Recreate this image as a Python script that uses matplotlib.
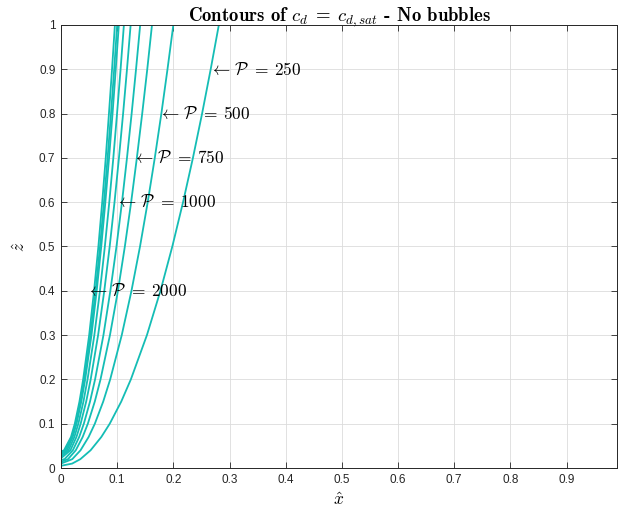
import numpy as np
import matplotlib
matplotlib.use("Agg")
import matplotlib.pyplot as plt

plt.rcParams['mathtext.fontset'] = 'cm'
plt.rcParams['font.family'] = ['Liberation Sans', 'DejaVu Sans']

# contour levels of P, from left-most curve to right-most curve
P_levels = [2250, 2000, 1750, 1500, 1250, 1000, 750, 500, 250]

# height where each contour leaves the x = 0 axis
z_start = [0.037, 0.034, 0.030, 0.026, 0.022, 0.018, 0.014, 0.010, 0.005]

# common z heights, and x of every contour at those heights (nan = below start)
z_grid = [0.01, 0.02, 0.04, 0.07, 0.1, 0.15, 0.2, 0.3, 0.4, 0.5, 0.6, 0.7, 0.8, 0.9, 1.0]
nan = np.nan
x_2250 = [nan, nan, 0.0054, 0.0178, 0.0246, 0.0329, 0.0395, 0.0502, 0.0589, 0.0666, 0.0734, 0.0797, 0.0854, 0.0909, 0.096]
x_2000 = [nan, nan, 0.0079, 0.0193, 0.0261, 0.0347, 0.0415, 0.0525, 0.0616, 0.0695, 0.0765, 0.0830, 0.0891, 0.0947, 0.100]
x_1750 = [nan, nan, 0.0105, 0.0209, 0.0277, 0.0362, 0.0431, 0.0543, 0.0636, 0.0717, 0.0790, 0.0856, 0.0918, 0.0975, 0.103]
x_1500 = [nan, nan, 0.0134, 0.0238, 0.0309, 0.0400, 0.0473, 0.0594, 0.0694, 0.0781, 0.0860, 0.0932, 0.0998, 0.1061, 0.112]
x_1250 = [nan, nan, 0.0168, 0.0275, 0.0350, 0.0449, 0.0529, 0.0661, 0.0771, 0.0867, 0.0953, 0.1032, 0.1106, 0.1175, 0.124]
x_1000 = [nan, 0.0064, 0.0211, 0.0324, 0.0407, 0.0517, 0.0607, 0.0756, 0.0879, 0.0988, 0.1086, 0.1175, 0.1258, 0.1336, 0.141]
x_750 = [nan, 0.0126, 0.0263, 0.0386, 0.0478, 0.0602, 0.0704, 0.0872, 0.1014, 0.1137, 0.1249, 0.1351, 0.1446, 0.1536, 0.162]
x_500 = [nan, 0.0201, 0.0348, 0.0492, 0.0603, 0.0752, 0.0876, 0.1082, 0.1255, 0.1407, 0.1544, 0.1670, 0.1787, 0.1896, 0.200]
x_250 = [0.0199, 0.0345, 0.0527, 0.0718, 0.0868, 0.1073, 0.1244, 0.1530, 0.1771, 0.1982, 0.2173, 0.2349, 0.2512, 0.2665, 0.281]
contour_x = [x_2250, x_2000, x_1750, x_1500, x_1250, x_1000, x_750, x_500, x_250]

# annotated contours and where their labels sit
label_P = [250, 500, 750, 1000, 2000]
label_x = [0.263, 0.173, 0.127, 0.097, 0.044]
label_z = [0.9, 0.8, 0.7, 0.6, 0.4]

line_color = '#14bdb5'

fig = plt.figure(figsize=(6.19, 5.16), dpi=100)
ax = fig.add_axes([0.0985, 0.093, 0.8985, 0.8586])

for z0, xs in zip(z_start, contour_x):
    xs = np.array(xs)
    zs = np.array(z_grid)
    ok = ~np.isnan(xs)
    ax.plot(np.r_[0.0, xs[ok]], np.r_[z0, zs[ok]], color=line_color, lw=1.3)

for P, lx, lz in zip(label_P, label_x, label_z):
    ax.text(lx, lz, r'$\leftarrow\,\mathcal{P}\;=\:%d$' % P, fontsize=12.5,
            ha='left', va='center')

ax.set_xlim(0, 0.99)
ax.set_ylim(0, 1)
ax.set_xticks(np.arange(0, 1.0, 0.1))
ax.set_xticklabels(['0', '0.1', '0.2', '0.3', '0.4', '0.5', '0.6', '0.7', '0.8', '0.9'])
ax.set_yticks(np.arange(0, 1.01, 0.1))
ax.set_yticklabels(['0', '0.1', '0.2', '0.3', '0.4', '0.5', '0.6', '0.7', '0.8', '0.9', '1'])
ax.tick_params(direction='in', length=4, width=0.6, labelsize=8.5,
               top=True, right=True, colors='#262626', pad=4)
ax.grid(True, color='#dcdcdc', lw=0.6)
ax.set_axisbelow(True)
for side in ax.spines.values():
    side.set_color('#262626')
    side.set_linewidth(0.7)

ax.set_xlabel(r'$\hat{x}$', fontsize=12.5, labelpad=4)
ax.set_ylabel(r'$\hat{z}$', fontsize=12.5, labelpad=8)
ax.set_title(r'Contours of $c_d\;=\;c_{d,sat}$ - No bubbles', fontsize=13.5,
             fontfamily='cmb10', pad=3)

fig.savefig('out.png', dpi=100)
